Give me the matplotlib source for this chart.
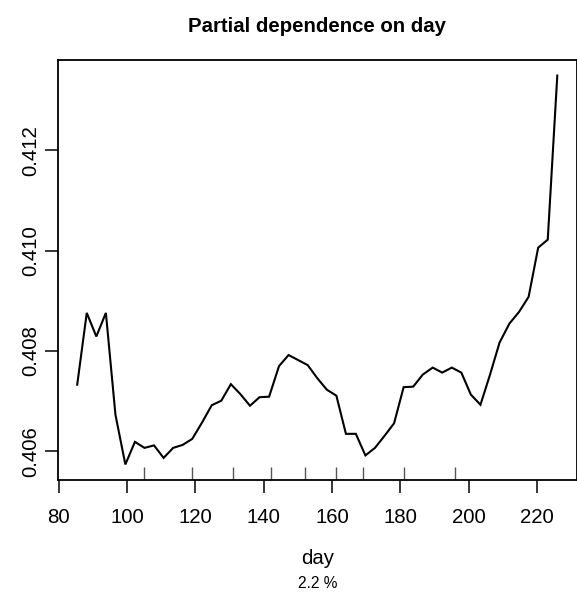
import matplotlib
matplotlib.use("Agg")
import matplotlib.pyplot as plt

plt.rcParams['font.family'] = ['Liberation Sans', 'DejaVu Sans']

day = [85.4, 88.2, 91.0, 93.8, 96.6, 99.5, 102.3, 105.1, 107.9, 110.7,
       113.5, 116.3, 119.1, 122.0, 124.8, 127.6, 130.4, 133.2, 136.0, 138.8,
       141.6, 144.5, 147.3, 150.1, 152.9, 155.7, 158.5, 161.3, 164.1, 167.0,
       169.8, 172.6, 175.4, 178.2, 181.0, 183.8, 186.6, 189.5, 192.3, 195.1,
       197.9, 200.7, 203.5, 206.3, 209.1, 212.0, 214.8, 217.6, 220.4, 223.2,
       226.0]
pdep = [0.40733, 0.40876, 0.40829, 0.40876, 0.40673, 0.40574, 0.40619, 0.40607, 0.40612, 0.40587,
        0.40607, 0.40613, 0.40625, 0.40658, 0.40692, 0.40701, 0.40734, 0.40714, 0.40691, 0.40708,
        0.40709, 0.40770, 0.40792, 0.40782, 0.40772, 0.40746, 0.40723, 0.40711, 0.40635, 0.40635,
        0.40592, 0.40607, 0.40631, 0.40656, 0.40728, 0.40729, 0.40753, 0.40767, 0.40757, 0.40767,
        0.40757, 0.40713, 0.40693, 0.40753, 0.40817, 0.40855, 0.40878, 0.40908, 0.41006, 0.41022,
        0.41349]
deciles = [105.1, 119.1, 131.1, 142.1, 152.0, 161.1, 169.0, 181.0, 196.1]
xticks = [80, 100, 120, 140, 160, 180, 200, 220]
yticks = [0.406, 0.408, 0.410, 0.412]
ytick_labels = ["0.406", "0.408", "0.410", "0.412"]
title = "Partial dependence on day"
xlabel = "day"
subtitle = "2.2 %"

W, H = 577, 595
fig = plt.figure(figsize=(W / 100, H / 100), dpi=100)
ax = fig.add_axes([58 / W, (H - 480) / H, (576.5 - 58) / W, (480 - 60) / H])

ax.plot(day, pdep, color='black', lw=1.5, solid_joinstyle='miter')

ymin, ymax = min(pdep), max(pdep)
ypad = (ymax - ymin) * 0.04
ax.set_ylim(ymin - ypad, ymax + ypad)
xmin, xmax = min(day), max(day)
xpad = (xmax - xmin) * 0.04
ax.set_xlim(xmin - xpad, xmax + xpad)

ax.vlines(deciles, 0, 0.031, transform=ax.get_xaxis_transform(), color='#555555', lw=1.0)

ax.set_xticks(xticks)
ax.set_xticklabels([str(t) for t in xticks])
ax.set_yticks(yticks)
ax.set_yticklabels(ytick_labels, rotation=90, va='center')
ax.tick_params(axis='both', direction='out', length=9.5, width=1.1, labelsize=14.7, color='black')
ax.tick_params(axis='x', pad=11)
ax.tick_params(axis='y', pad=3)
for s in ax.spines.values():
    s.set_linewidth(1.3)

fig.text(317.5 / W, 1 - 27 / H, title, ha='center', va='center', fontsize=14.7, fontweight='bold')
fig.text(317.5 / W, 1 - 558 / H, xlabel, ha='center', va='center', fontsize=14.7)
fig.text(317.5 / W, 1 - 583 / H, subtitle, ha='center', va='center', fontsize=11.2)

fig.savefig("out.png", dpi=100)
